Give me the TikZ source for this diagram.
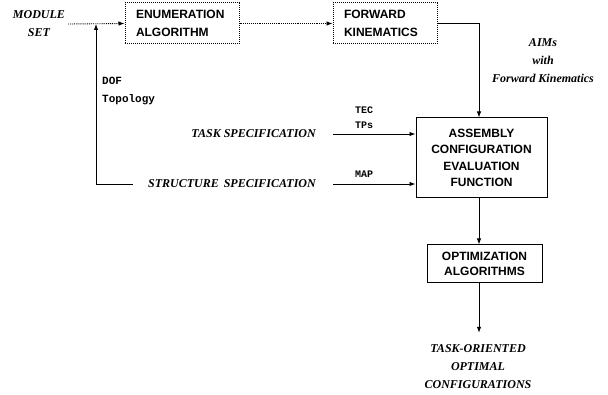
\documentclass[tikz,border=0pt]{standalone}
\usepackage{fontspec}
\setmainfont{Liberation Serif}
\setsansfont{Liberation Sans}
\setmonofont{Liberation Mono}
\usetikzlibrary{arrows.meta}
\tikzset{
	dotbox/.style={draw, densely dotted, line width=1pt, minimum height=41pt, inner xsep=11pt, align=left, font=\sffamily\bfseries\fontsize{12}{18}\selectfont},
	solidbox/.style={draw, line width=1pt, align=center, font=\sffamily\bfseries\fontsize{12}{16.5}\selectfont},
	spec/.style={font=\rmfamily\bfseries\itshape\fontsize{12}{18}\selectfont, inner sep=0pt, align=center},
	ttlabel/.style={font=\ttfamily\bfseries\fontsize{10}{15}\selectfont, align=left, inner sep=0pt},
	flow/.style={line width=0.9pt, -{Latex[length=6pt,width=4.5pt]}},
}

\begin{document}
\begin{tikzpicture}[x=1pt, y=-1pt]
			%%%%% START %%%%%
			\useasboundingbox (0, 0) rectangle (608, 395);
			
			\coordinate (spine) at (479, 0);
			\coordinate (tap) at (96, 24);
			
			% top row
			\node[spec] (modset) at (39, 24) {MODULE\\SET};
			\node[dotbox, minimum width=114pt, text width=92pt] (enum) at (182, 23.5) {ENUMERATION\\ALGORITHM};
			\node[dotbox, minimum width=104pt, text width=82pt] (fwd) at (385, 23.5) {FORWARD\\KINEMATICS};
			
			\draw[flow, densely dotted] (modset.east) ++(3, 0) -- (enum.west);
			\draw[flow, densely dotted] (enum.east) -- (fwd.west);
			
			% evaluation
			\node[solidbox, minimum width=131pt, minimum height=80pt] (asm) at (481.5, 158) {ASSEMBLY\\CONFIGURATION\\EVALUATION\\FUNCTION};
			\draw[flow] (fwd.east) -| (asm.north -| spine);
			\node[spec] (aims) at (543, 61) {AIMs\\with\\Forward Kinematics};
			
			% inputs
			\node[spec, anchor=east] (task) at (316, 134) {TASK SPECIFICATION};
			\node[spec, anchor=east] (struct) at (316, 184) {STRUCTURE\, SPECIFICATION};
			\draw[flow] ([xshift=17]task.east) -- (task.east -| asm.west);
			\draw[flow] ([xshift=17]struct.east) -- (struct.east -| asm.west);
			\node[ttlabel, anchor=west] (tec) at (355, 117.5) {TEC\\TPs};
			\node[ttlabel, anchor=west] (map) at (355, 174) {MAP};
			
			% feedback to module set
			\draw[flow] ([xshift=-15]struct.west) -| (tap);
			\node[ttlabel, anchor=west, font=\ttfamily\bfseries\fontsize{11}{18}\selectfont] (dof) at (102, 91) {DOF\\Topology};
			
			% optimization
			\node[solidbox, minimum width=115pt, minimum height=38pt, font=\sffamily\bfseries\fontsize{12}{15.5}\selectfont] (opt) at (484.5, 264) {OPTIMIZATION\\ALGORITHMS};
			\draw[flow] (asm.south -| spine) -- (opt.north -| spine);
			
			\node[spec] (result) at (478, 367) {TASK-ORIENTED\\OPTIMAL\\CONFIGURATIONS};
			\draw[flow] (opt.south -| spine) -- ([yshift=12]result.north -| spine);
			%%%%% END %%%%%
\end{tikzpicture}
\end{document}
